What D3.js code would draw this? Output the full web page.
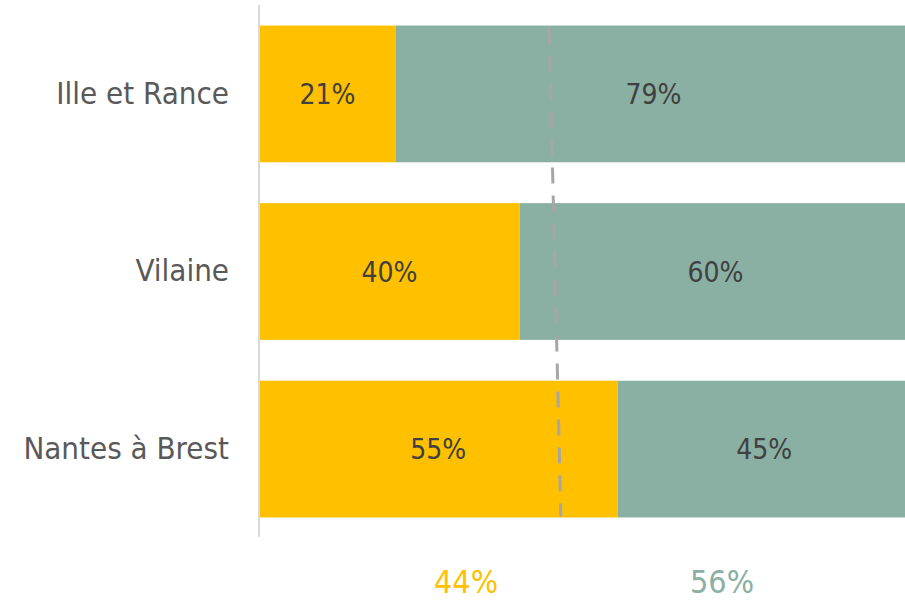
<!DOCTYPE html>
<html>
<head>
<meta charset="utf-8">
<script src="https://cdn.jsdelivr.net/npm/d3@7"></script>
<style>
  body { margin: 0; background: #fff; }
  svg { display: block; }
</style>
</head>
<body>
<div id="chart"></div>
<script>
// ===== data =====
var categories = ["Ille et Rance", "Vilaine", "Nantes à Brest"];
var part1 = [0.21, 0.40, 0.55];   // yellow
var part2 = [0.79, 0.60, 0.45];   // green
var totals = [0.44, 0.56];        // overall split shown under the bars
var avgLine = [0.445, 0.463];     // dashed reference line, top -> bottom

var width = 905, height = 602;
var svg = d3.select("#chart")
    .append("svg")
    .attr("width", width)
    .attr("height", height);

var x = d3.scaleLinear().domain([0, 1]).range([259, 911]);
var y = d3.scaleBand().domain(categories).range([6, 537]).paddingInner(0.23).paddingOuter(0.11);

var yellow = "#FFC000", green = "#8AB0A3";

// bars
var rows = categories.map(function(c, i) {
    return {cat: c, a: part1[i], b: part2[i]};
});

var g = svg.append("g");
rows.forEach(function(d) {
    g.append("rect")
        .attr("x", x(0))
        .attr("y", y(d.cat))
        .attr("width", x(d.a) - x(0))
        .attr("height", y.bandwidth())
        .attr("fill", yellow);
    g.append("rect")
        .attr("x", x(d.a))
        .attr("y", y(d.cat))
        .attr("width", x(d.a + d.b) - x(d.a))
        .attr("height", y.bandwidth())
        .attr("fill", green);

    // labels inside segments
    g.append("text")
        .text(Math.round(d.a * 100) + "%")
        .attr("x", x(d.a / 2))
        .attr("y", y(d.cat) + y.bandwidth() / 2)
        .attr("dy", "0.36em")
        .attr("text-anchor", "middle")
        .attr("font-family", "DejaVu Sans Condensed")
        .attr("font-size", "28px")
        .attr("fill", "#404040");
    g.append("text")
        .text(Math.round(d.b * 100) + "%")
        .attr("x", x(d.a + d.b / 2))
        .attr("y", y(d.cat) + y.bandwidth() / 2)
        .attr("dy", "0.36em")
        .attr("text-anchor", "middle")
        .attr("font-family", "DejaVu Sans Condensed")
        .attr("font-size", "28px")
        .attr("fill", "#404040");
});

// category axis
var yAxis = svg.append("g")
    .attr("transform", "translate(" + x(0) + ",0)")
    .call(d3.axisLeft(y).tickSize(0).tickPadding(30));
yAxis.select(".domain").remove();
yAxis.selectAll("text")
    .attr("font-family", "DejaVu Sans Condensed")
    .attr("font-size", "31px")
    .attr("fill", "#595959");

svg.append("line")
    .attr("x1", x(0)).attr("x2", x(0))
    .attr("y1", 5).attr("y2", 537)
    .attr("stroke", "#D9D9D9")
    .attr("stroke-width", 2);

// dashed line
var last = categories[categories.length - 1];
var lineY = [y(categories[0]) + 2, y(last) + y.bandwidth() - 1];
var dash = d3.line()
    .x(function(d) { return x(d); })
    .y(function(d, i) { return lineY[i]; });
svg.append("path")
    .datum(avgLine)
    .attr("d", dash)
    .attr("fill", "none")
    .attr("stroke", "#A6A6A6")
    .attr("stroke-width", 3)
    .attr("stroke-dasharray", "16,12");

// totals under the chart
var totalX = [466, 722];
var totalColors = [yellow, green];
totals.forEach(function(t, i) {
    svg.append("text")
        .text(Math.round(t * 100) + "%")
        .attr("x", totalX[i])
        .attr("y", 593)
        .attr("text-anchor", "middle")
        .attr("font-family", "DejaVu Sans Condensed")
        .attr("font-size", "32px")
        .attr("fill", totalColors[i]);
});
</script>
</body>
</html>
